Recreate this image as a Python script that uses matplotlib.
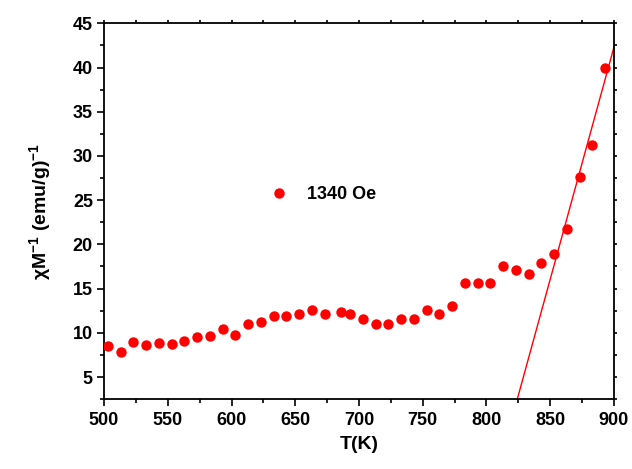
import matplotlib
matplotlib.use("Agg")
import matplotlib.pyplot as plt
import numpy as np
from matplotlib.ticker import MultipleLocator

plt.rcParams["font.family"] = ["Liberation Sans", "DejaVu Sans"]
plt.rcParams["font.weight"] = "bold"
plt.rcParams["mathtext.fontset"] = "custom"
plt.rcParams["mathtext.rm"] = "Liberation Sans:bold"
plt.rcParams["mathtext.bf"] = "Liberation Sans:bold"
plt.rcParams["mathtext.default"] = "regular"

# inverse susceptibility vs temperature, H = 1340 Oe
temperature = [503, 513, 523, 533, 543, 553, 563, 573, 583, 593,
               603, 613, 623, 633, 643, 653, 663, 673, 686, 693,
               703, 713, 723, 733, 743, 753, 763, 773, 783, 793,
               803, 813, 823, 833, 843, 853, 863, 873, 883, 893]
chi_inv = [8.55, 7.80, 8.96, 8.62, 8.85, 8.74, 9.12, 9.57, 9.69, 10.40,
           9.80, 11.04, 11.22, 11.95, 11.95, 12.18, 12.58, 12.18, 12.40, 12.18,
           11.61, 11.04, 11.04, 11.61, 11.61, 12.58, 12.18, 13.08, 15.64, 15.64,
           15.64, 17.53, 17.08, 16.70, 17.95, 18.89, 21.75, 27.64, 31.26, 39.97]

# Curie-Weiss linear fit in the paramagnetic region
fit_slope = 0.525
fit_theta = 819.4
fit_T = [fit_theta, 900]

fig = plt.figure(figsize=(6.32, 4.69), dpi=100)
ax = fig.add_axes([0.1646, 0.149, 0.8069, 0.8013])

ax.plot(temperature, chi_inv, "o", color="#ff0000", ms=7.5, mec="none",
        label="1340 Oe", zorder=3)
fit_x = np.array(fit_T)
ax.plot(fit_x, fit_slope * (fit_x - fit_theta), "-", color="#ff0000", lw=1)

ax.set_xlim(500, 900)
ax.set_ylim(2.5, 45)
ax.xaxis.set_major_locator(MultipleLocator(50))
ax.xaxis.set_minor_locator(MultipleLocator(25))
ax.yaxis.set_major_locator(MultipleLocator(5))
ax.yaxis.set_minor_locator(MultipleLocator(2.5))
ax.set_yticks(np.arange(5, 46, 5))

for s in ax.spines.values():
    s.set_linewidth(1.3)

ax.tick_params(axis="both", which="both", labelsize=13, width=1.2)
ax.tick_params(axis="x", which="major", direction="out", length=5, pad=4)
ax.tick_params(axis="x", which="minor", direction="out", length=3)
ax.tick_params(axis="y", which="major", direction="out", length=5, pad=3)
ax.tick_params(axis="y", which="minor", direction="out", length=3)
ax.tick_params(top=True, right=True, which="both")
# the top and right ticks are only short nubs
for t in ax.xaxis.get_ticklines(minor=False)[1::2] + ax.xaxis.get_ticklines(minor=True)[1::2]:
    t.set_markersize(2)
for t in ax.yaxis.get_ticklines(minor=False)[1::2] + ax.yaxis.get_ticklines(minor=True)[1::2]:
    t.set_markersize(2)

ax.set_xlabel("T(K)", fontsize=14, fontweight="bold", labelpad=5)
ax.set_ylabel("χM$^{-1}$ (emu/g)$^{-1}$", fontsize=14, fontweight="bold", labelpad=14)

ax.legend(loc="upper left", bbox_to_anchor=(0.275, 0.61), frameon=False,
          handletextpad=0.6, markerscale=1.0,
          prop={"weight": "bold", "size": 13})

fig.savefig("out.png", dpi=100)
